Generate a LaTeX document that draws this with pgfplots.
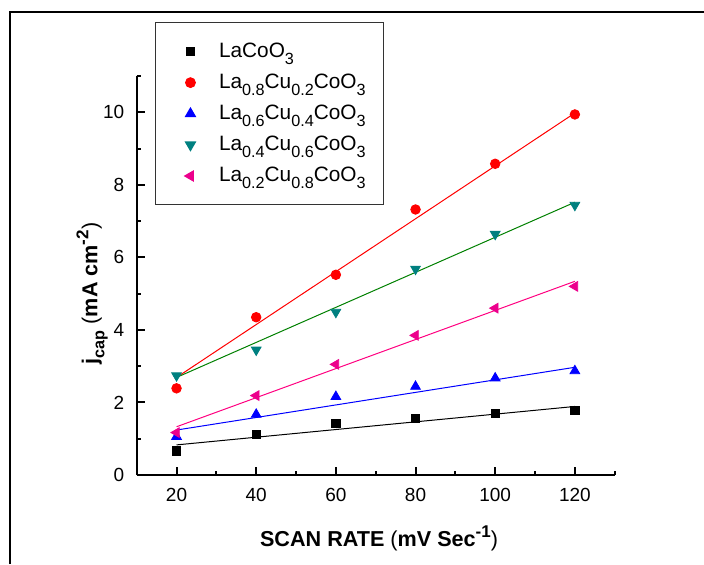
\documentclass[border=0pt]{standalone}
\usepackage{fontspec}
\setmainfont{Liberation Sans}
\usepackage{pgfplots}
\pgfplotsset{compat=1.18}

\definecolor{tealmk}{RGB}{0,128,128}
\definecolor{grnln}{RGB}{0,128,0}
\definecolor{pnkln}{RGB}{255,0,128}

\newcommand\sub[1]{\raisebox{-3.5pt}{\fontsize{8.1}{9}\selectfont #1}}
\newcommand\sups[1]{\raisebox{4.5pt}{\fontsize{8.5}{9}\selectfont #1}}

\begin{document}
\begin{tikzpicture}
\useasboundingbox (-68.35pt,-44.5pt) rectangle (283.65pt,237.5pt);
\draw[line width=1pt] (-63.35pt,-44.5pt) -- (-63.35pt,231.5pt) -- (283.65pt,231.5pt);
\begin{axis}[
    at={(0,0)}, anchor=south west,
    scale only axis, width=239pt, height=199.5pt,
    xmin=10, xmax=130, ymin=0, ymax=11,
    axis x line=bottom, axis y line=left,
    axis line style={line width=1pt, -},
    xtick={20,40,...,120}, ytick={0,2,...,10},
    minor xtick={10,30,...,130}, minor ytick={1,3,...,11},
    tick align=inside,
    major tick length=4pt, minor tick length=2pt,
    every tick/.style={line width=1pt, black},
    tick label style={font=\fontsize{9.5}{11}\selectfont},
    /pgf/number format/assume math mode=true,
    xticklabel shift=3pt, yticklabel shift=2.7pt,
    label style={font=\fontsize{10.8}{13}\selectfont},
    xlabel={\textbf{SCAN RATE} (\textbf{mV Sec\sups{-1}})},
    ylabel={\textbf{j\sub{\textbf{cap}}} (\textbf{mA cm\sups{-2}})},
    xlabel style={at={(axis description cs:0.507,-0.16)}, anchor=center},
    ylabel style={at={(axis description cs:-0.0935,0.455)}, anchor=center},
    legend style={at={(axis description cs:0.038,1.135)}, anchor=north west,
        draw=black!80, line width=0.6pt, font=\fontsize{10.4}{12}\selectfont,
        row sep=2.8pt, inner xsep=7pt, inner ysep=8pt},
    legend cell align=left,
    legend image code/.code={
        \path[draw=none] (-10.5pt,0pt) (12.3pt,0pt);
        \draw[#1] plot coordinates {(0pt,0pt)};},
]
% fitted lines
\addplot[black, line width=0.5pt, forget plot] coordinates {(20,0.83) (120,1.89)};
\addplot[red, line width=0.5pt, forget plot] coordinates {(20,2.69) (120,9.98)};
\addplot[blue, line width=0.5pt, forget plot] coordinates {(20,1.24) (120,2.97)};
\addplot[grnln, line width=0.5pt, forget plot] coordinates {(20,2.69) (120,7.52)};
\addplot[pnkln, line width=0.5pt, forget plot] coordinates {(20,1.33) (120,5.34)};
% measured points
\addplot[only marks, mark=square*, mark size=2.1pt, black] coordinates {
    (20,0.67) (40,1.12) (60,1.42) (80,1.56) (100,1.70) (120,1.78)};
\addlegendentry{LaCoO\sub{3}}
\addplot[only marks, mark=*, mark size=2.4pt, red] coordinates {
    (20,2.39) (40,4.35) (60,5.52) (80,7.32) (100,8.58) (120,9.94)};
\addlegendentry{La\sub{0.8}Cu\sub{0.2}CoO\sub{3}}
\addplot[only marks, mark=triangle*, mark size=2.8pt, blue] coordinates {
    (20,1.06) (40,1.67) (60,2.16) (80,2.44) (100,2.67) (120,2.87)};
\addlegendentry{La\sub{0.6}Cu\sub{0.4}CoO\sub{3}}
\addplot[only marks, mark=triangle*, mark options={rotate=180}, mark size=2.8pt, tealmk] coordinates {
    (20,2.74) (40,3.45) (60,4.49) (80,5.68) (100,6.64) (120,7.44)};
\addlegendentry{La\sub{0.4}Cu\sub{0.6}CoO\sub{3}}
\addplot[only marks, mark=triangle*, mark options={rotate=90}, mark size=2.8pt, magenta] coordinates {
    (20,1.17) (40,2.19) (60,3.05) (80,3.85) (100,4.60) (120,5.20)};
\addlegendentry{La\sub{0.2}Cu\sub{0.8}CoO\sub{3}}
\end{axis}
\end{tikzpicture}
\end{document}
